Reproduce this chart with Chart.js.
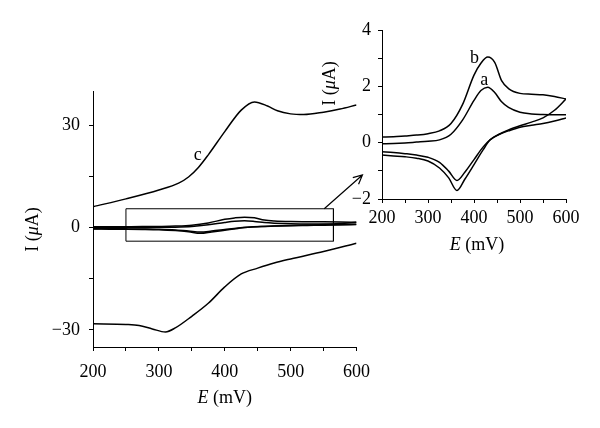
<!DOCTYPE html>
<html>
<head>
<meta charset="utf-8">
<script src="https://cdn.jsdelivr.net/npm/chart.js@4.4.1/dist/chart.umd.min.js"></script>
<style>
  html, body { margin: 0; padding: 0; background: #fff; }
  #wrap { position: relative; width: 600px; height: 428px; }
  #mainBox { position: absolute; left: 0; top: 0; width: 380px; height: 428px; }
  #insetBox { position: absolute; left: 300px; top: 0; width: 300px; height: 270px; }
</style>
</head>
<body>
<div id="wrap">
  <div id="mainBox"><canvas id="mainChart"></canvas></div>
  <div id="insetBox"><canvas id="insetChart"></canvas></div>
</div>
<script>
// Curve c (large electrode) - anodic and cathodic branches
const cFwdE = [200, 250, 300, 330, 345, 360, 375, 400, 425, 445, 465, 480, 500, 520, 550, 575, 600];
const cFwdI = [6.1, 8.4, 11.0, 13.0, 14.8, 17.6, 21.3, 28.1, 34.4, 36.8, 35.6, 34.2, 33.3, 33.1, 33.8, 34.7, 35.9];
const cRevE = [600, 550, 500, 475, 450, 425, 400, 375, 350, 325, 310, 290, 270, 250, 200];
const cRevI = [-4.6, -7.0, -9.2, -10.4, -11.9, -13.6, -17.4, -22.2, -26.0, -29.4, -30.6, -29.7, -28.7, -28.4, -28.2];

// Curves a and b (shown in both plots)
const abFwdE = [200, 225, 250, 275, 300, 325, 350, 375, 400, 415, 430, 445, 460, 475, 500, 525, 550, 575, 600];
const aFwdI = [-0.04, -0.03, -0.01, 0.02, 0.05, 0.1, 0.3, 0.8, 1.5, 1.85, 1.97, 1.78, 1.45, 1.25, 1.08, 1.02, 1.0, 0.99, 0.99];
const bFwdI = [0.20, 0.21, 0.24, 0.27, 0.32, 0.42, 0.68, 1.35, 2.4, 2.82, 3.04, 2.85, 2.2, 1.92, 1.75, 1.72, 1.70, 1.64, 1.55];
const abRevE = [600, 575, 550, 525, 500, 475, 455, 435, 420, 400, 380, 363, 345, 325, 300, 275, 250, 225, 200];
const aRevI = [0.88, 0.77, 0.68, 0.62, 0.55, 0.42, 0.3, 0.1, -0.15, -0.6, -1.05, -1.34, -1.01, -0.7, -0.52, -0.44, -0.39, -0.35, -0.32];
const bRevI = [1.55, 1.15, 0.88, 0.73, 0.6, 0.45, 0.3, 0.1, -0.25, -0.78, -1.3, -1.70, -1.25, -0.9, -0.65, -0.55, -0.5, -0.47, -0.44];

// zoomed window marked in the main plot
const boxE = [250, 565];
const boxI = [-4, 5.5];

// tick values
const eTicks = [200, 250, 300, 350, 400, 450, 500, 550, 600];
const mainITicks = [-30, -15, 0, 15, 30];
const insetITicks = [-2, -1, 0, 1, 2, 3, 4];

const FAMILY = "'Liberation Serif', 'Times New Roman', serif";
const tickFont = { family: FAMILY, size: 18 };

function pts(xs, ys) {
    return xs.map((x, i) => ({ x: x, y: ys[i] }));
}

function fmt(v) {
    return v < 0 ? '\u2212' + Math.abs(v) : String(v);
}

function curve(xs, ys) {
    return {
        data: pts(xs, ys),
        showLine: true,
        borderColor: '#000',
        borderWidth: 1.5,
        pointRadius: 0,
        cubicInterpolationMode: 'monotone',
        fill: false
    };
}

// text made of plain and italic pieces, centred on (x, y)
function drawMixed(ctx, parts, x, y, rotate) {
    ctx.save();
    ctx.translate(x, y);
    if (rotate) ctx.rotate(-Math.PI / 2);
    ctx.textBaseline = 'middle';
    ctx.textAlign = 'left';
    ctx.fillStyle = '#000';
    let total = 0;
    parts.forEach(p => {
        ctx.font = (p[1] ? 'italic ' : '') + '18px ' + FAMILY;
        total += ctx.measureText(p[0]).width;
    });
    let cx = -total / 2;
    parts.forEach(p => {
        ctx.font = (p[1] ? 'italic ' : '') + '18px ' + FAMILY;
        ctx.fillText(p[0], cx, 0);
        cx += ctx.measureText(p[0]).width;
    });
    ctx.restore();
}

function axes(iTicks, iMin, iMax, labelStep, xPad, yPad, xHeight, yWidth) {
    return {
        x: {
            type: 'linear', min: 200, max: 600,
            afterBuildTicks: s => { s.ticks = eTicks.map(v => ({ value: v })); },
            afterFit: s => { s.height = xHeight; },
            ticks: {
                callback: v => (v % 100 === 0 ? String(v) : ''),
                font: tickFont, color: '#000', padding: xPad,
                maxRotation: 0, autoSkip: false
            },
            grid: { drawOnChartArea: false, tickLength: 4, color: '#000', lineWidth: 1 },
            border: { color: '#000', width: 1 }
        },
        y: {
            type: 'linear', min: iMin, max: iMax,
            afterBuildTicks: s => { s.ticks = iTicks.map(v => ({ value: v })); },
            afterFit: s => { s.width = yWidth; },
            ticks: {
                callback: v => (v % labelStep === 0 ? fmt(v) : ''),
                font: tickFont, color: '#000', padding: yPad, autoSkip: false
            },
            grid: { drawOnChartArea: false, tickLength: 4, color: '#000', lineWidth: 1 },
            border: { color: '#000', width: 1 }
        }
    };
}

const mainDecor = {
    id: 'mainDecor',
    afterDraw(chart) {
        const ctx = chart.ctx;
        const xs = chart.scales.x, ys = chart.scales.y;
        const area = chart.chartArea;
        drawMixed(ctx, [['E', true], [' (mV)', false]], (area.left + area.right) / 2, area.bottom + 51, false);
        drawMixed(ctx, [['I (', false], ['\u03bc', true], ['A)', false]], 33, ys.getPixelForValue(0) + 2, true);

        ctx.save();
        ctx.fillStyle = '#000';
        ctx.font = '18px ' + FAMILY;
        ctx.textAlign = 'center';
        ctx.textBaseline = 'middle';
        ctx.fillText('c', xs.getPixelForValue(359), ys.getPixelForValue(21.3));

        // arrow pointing at the inset
        const x0 = xs.getPixelForValue(551), y0 = ys.getPixelForValue(boxI[1]);
        const x1 = xs.getPixelForValue(609), y1 = ys.getPixelForValue(15.4);
        const ang = Math.atan2(y1 - y0, x1 - x0);
        ctx.strokeStyle = '#000';
        ctx.lineWidth = 1.2;
        ctx.beginPath();
        ctx.moveTo(x0, y0);
        ctx.lineTo(x1, y1);
        ctx.moveTo(x1 - 10 * Math.cos(ang - 0.45), y1 - 10 * Math.sin(ang - 0.45));
        ctx.lineTo(x1, y1);
        ctx.lineTo(x1 - 10 * Math.cos(ang + 0.45), y1 - 10 * Math.sin(ang + 0.45));
        ctx.stroke();
        ctx.restore();
    }
};

const insetDecor = {
    id: 'insetDecor',
    afterDraw(chart) {
        const ctx = chart.ctx;
        const xs = chart.scales.x, ys = chart.scales.y;
        const area = chart.chartArea;
        drawMixed(ctx, [['E', true], [' (mV)', false]], (area.left + area.right) / 2 + 3, area.bottom + 46, false);
        drawMixed(ctx, [['I (', false], ['\u03bc', true], ['A)', false]], 30, ys.getPixelForValue(2.1), true);

        ctx.save();
        ctx.fillStyle = '#000';
        ctx.font = '18px ' + FAMILY;
        ctx.textAlign = 'center';
        ctx.textBaseline = 'middle';
        ctx.fillText('b', xs.getPixelForValue(401), ys.getPixelForValue(2.98));
        ctx.fillText('a', xs.getPixelForValue(422), ys.getPixelForValue(2.2));
        ctx.restore();
    }
};

const boxDataset = {
    data: pts([boxE[0], boxE[1], boxE[1], boxE[0], boxE[0]], [boxI[1], boxI[1], boxI[0], boxI[0], boxI[1]]),
    showLine: true,
    borderColor: '#000',
    borderWidth: 1,
    pointRadius: 0,
    tension: 0,
    fill: false
};

new Chart(document.getElementById('mainChart'), {
    type: 'scatter',
    data: {
        datasets: [
            curve(cFwdE, cFwdI),
            curve(cRevE, cRevI),
            curve(abFwdE, aFwdI),
            curve(abRevE, aRevI),
            curve(abFwdE, bFwdI),
            curve(abRevE, bRevI),
            boxDataset
        ]
    },
    options: {
        responsive: true,
        maintainAspectRatio: false,
        animation: false,
        layout: { padding: { left: 0, top: 91, right: 23, bottom: 0 } },
        plugins: { legend: { display: false }, tooltip: { enabled: false } },
        scales: axes(mainITicks, -35, 40, 30, 10, 9, 81, 93)
    },
    plugins: [mainDecor]
});

new Chart(document.getElementById('insetChart'), {
    type: 'scatter',
    data: {
        datasets: [
            curve(abFwdE, aFwdI),
            curve(abRevE, aRevI),
            curve(abFwdE, bFwdI),
            curve(abRevE, bRevI)
        ]
    },
    options: {
        responsive: true,
        maintainAspectRatio: false,
        animation: false,
        layout: { padding: { left: 0, top: 30, right: 34, bottom: 0 } },
        plugins: { legend: { display: false }, tooltip: { enabled: false } },
        scales: axes(insetITicks, -2, 4, 2, 4, 7, 71, 82)
    },
    plugins: [insetDecor]
});
</script>
</body>
</html>
